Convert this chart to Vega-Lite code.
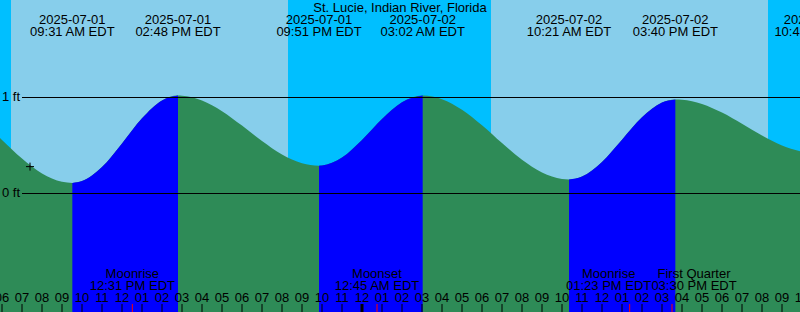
{
  "$schema": "https://vega.github.io/schema/vega-lite/v6.json",
  "width": 800,
  "height": 312,
  "autosize": "none",
  "padding": 0,
  "background": "#87CEEB",
  "config": {"view": {"stroke": null}, "font": "Liberation Sans"},
  "datasets": {
    "night": [
      {"start": "2025-07-01T05:54:00Z", "end": "2025-07-01T06:27:00Z"},
      {"start": "2025-07-01T20:18:00Z", "end": "2025-07-02T06:27:00Z"},
      {"start": "2025-07-02T20:18:00Z", "end": "2025-07-02T21:54:00Z"}
    ],
    "tide": [
      {"t": "2025-07-01T05:54:00Z", "ft": 0.577},
      {"t": "2025-07-01T06:00:00Z", "ft": 0.557},
      {"t": "2025-07-01T07:00:00Z", "ft": 0.364},
      {"t": "2025-07-01T08:00:00Z", "ft": 0.209},
      {"t": "2025-07-01T09:00:00Z", "ft": 0.122},
      {"t": "2025-07-01T09:31:00Z", "ft": 0.11},
      {"t": "2025-07-01T10:00:00Z", "ft": 0.129},
      {"t": "2025-07-01T11:00:00Z", "ft": 0.276},
      {"t": "2025-07-01T12:00:00Z", "ft": 0.522},
      {"t": "2025-07-01T13:00:00Z", "ft": 0.783},
      {"t": "2025-07-01T14:00:00Z", "ft": 0.97},
      {"t": "2025-07-01T14:48:00Z", "ft": 1.02},
      {"t": "2025-07-01T15:00:00Z", "ft": 1.019},
      {"t": "2025-07-01T16:00:00Z", "ft": 0.969},
      {"t": "2025-07-01T17:00:00Z", "ft": 0.858},
      {"t": "2025-07-01T18:00:00Z", "ft": 0.708},
      {"t": "2025-07-01T19:00:00Z", "ft": 0.547},
      {"t": "2025-07-01T20:00:00Z", "ft": 0.407},
      {"t": "2025-07-01T21:00:00Z", "ft": 0.316},
      {"t": "2025-07-01T21:51:00Z", "ft": 0.29},
      {"t": "2025-07-01T22:00:00Z", "ft": 0.292},
      {"t": "2025-07-01T23:00:00Z", "ft": 0.375},
      {"t": "2025-07-02T00:00:00Z", "ft": 0.558},
      {"t": "2025-07-02T01:00:00Z", "ft": 0.776},
      {"t": "2025-07-02T02:00:00Z", "ft": 0.951},
      {"t": "2025-07-02T03:02:00Z", "ft": 1.02},
      {"t": "2025-07-02T04:00:00Z", "ft": 0.983},
      {"t": "2025-07-02T05:00:00Z", "ft": 0.873},
      {"t": "2025-07-02T06:00:00Z", "ft": 0.711},
      {"t": "2025-07-02T07:00:00Z", "ft": 0.525},
      {"t": "2025-07-02T08:00:00Z", "ft": 0.351},
      {"t": "2025-07-02T09:00:00Z", "ft": 0.218},
      {"t": "2025-07-02T10:00:00Z", "ft": 0.151},
      {"t": "2025-07-02T10:21:00Z", "ft": 0.146},
      {"t": "2025-07-02T11:00:00Z", "ft": 0.176},
      {"t": "2025-07-02T12:00:00Z", "ft": 0.329},
      {"t": "2025-07-02T13:00:00Z", "ft": 0.561},
      {"t": "2025-07-02T14:00:00Z", "ft": 0.793},
      {"t": "2025-07-02T15:00:00Z", "ft": 0.948},
      {"t": "2025-07-02T15:40:00Z", "ft": 0.98},
      {"t": "2025-07-02T16:00:00Z", "ft": 0.977},
      {"t": "2025-07-02T17:00:00Z", "ft": 0.933},
      {"t": "2025-07-02T18:00:00Z", "ft": 0.843},
      {"t": "2025-07-02T19:00:00Z", "ft": 0.726},
      {"t": "2025-07-02T20:00:00Z", "ft": 0.604},
      {"t": "2025-07-02T21:00:00Z", "ft": 0.5},
      {"t": "2025-07-02T21:54:00Z", "ft": 0.44}
    ],
    "rising": [
      {"seg": "r1", "t": "2025-07-01T09:31:00Z", "ft": 0.11},
      {"seg": "r1", "t": "2025-07-01T10:00:00Z", "ft": 0.129},
      {"seg": "r1", "t": "2025-07-01T11:00:00Z", "ft": 0.276},
      {"seg": "r1", "t": "2025-07-01T12:00:00Z", "ft": 0.522},
      {"seg": "r1", "t": "2025-07-01T13:00:00Z", "ft": 0.783},
      {"seg": "r1", "t": "2025-07-01T14:00:00Z", "ft": 0.97},
      {"seg": "r1", "t": "2025-07-01T14:48:00Z", "ft": 1.02},
      {"seg": "r2", "t": "2025-07-01T21:51:00Z", "ft": 0.29},
      {"seg": "r2", "t": "2025-07-01T22:00:00Z", "ft": 0.292},
      {"seg": "r2", "t": "2025-07-01T23:00:00Z", "ft": 0.375},
      {"seg": "r2", "t": "2025-07-02T00:00:00Z", "ft": 0.558},
      {"seg": "r2", "t": "2025-07-02T01:00:00Z", "ft": 0.776},
      {"seg": "r2", "t": "2025-07-02T02:00:00Z", "ft": 0.951},
      {"seg": "r2", "t": "2025-07-02T03:02:00Z", "ft": 1.02},
      {"seg": "r3", "t": "2025-07-02T10:21:00Z", "ft": 0.146},
      {"seg": "r3", "t": "2025-07-02T11:00:00Z", "ft": 0.176},
      {"seg": "r3", "t": "2025-07-02T12:00:00Z", "ft": 0.329},
      {"seg": "r3", "t": "2025-07-02T13:00:00Z", "ft": 0.561},
      {"seg": "r3", "t": "2025-07-02T14:00:00Z", "ft": 0.793},
      {"seg": "r3", "t": "2025-07-02T15:00:00Z", "ft": 0.948},
      {"seg": "r3", "t": "2025-07-02T15:40:00Z", "ft": 0.98}
    ],
    "levels": [
      {"ft": 0, "label": "0 ft"},
      {"ft": 1, "label": "1 ft"}
    ],
    "events": [
      {"t": "2025-07-01T09:31:00Z", "label": "2025-07-01\n09:31 AM EDT"},
      {"t": "2025-07-01T14:48:00Z", "label": "2025-07-01\n02:48 PM EDT"},
      {"t": "2025-07-01T21:51:00Z", "label": "2025-07-01\n09:51 PM EDT"},
      {"t": "2025-07-02T03:02:00Z", "label": "2025-07-02\n03:02 AM EDT"},
      {"t": "2025-07-02T10:21:00Z", "label": "2025-07-02\n10:21 AM EDT"},
      {"t": "2025-07-02T15:40:00Z", "label": "2025-07-02\n03:40 PM EDT"},
      {"t": "2025-07-02T22:45:00Z", "label": "2025-07-02\n10:45 PM EDT"}
    ],
    "moon": [
      {"id": "a", "t": "2025-07-01T12:31:00Z", "label": "Moonrise\n12:31 PM EDT"},
      {"id": "b", "t": "2025-07-02T00:45:00Z", "label": "Moonset\n12:45 AM EDT"},
      {"id": "c", "t": "2025-07-02T13:23:00Z", "label": "Moonrise\n01:23 PM EDT"},
      {"id": "d", "t": "2025-07-02T15:30:00Z", "label": "First Quarter\n03:30 PM EDT"}
    ],
    "hours": [
      {"t": "2025-07-01T06:00:00Z", "label": "06"},
      {"t": "2025-07-01T07:00:00Z", "label": "07"},
      {"t": "2025-07-01T08:00:00Z", "label": "08"},
      {"t": "2025-07-01T09:00:00Z", "label": "09"},
      {"t": "2025-07-01T10:00:00Z", "label": "10"},
      {"t": "2025-07-01T11:00:00Z", "label": "11"},
      {"t": "2025-07-01T12:00:00Z", "label": "12"},
      {"t": "2025-07-01T13:00:00Z", "label": "01"},
      {"t": "2025-07-01T14:00:00Z", "label": "02"},
      {"t": "2025-07-01T15:00:00Z", "label": "03"},
      {"t": "2025-07-01T16:00:00Z", "label": "04"},
      {"t": "2025-07-01T17:00:00Z", "label": "05"},
      {"t": "2025-07-01T18:00:00Z", "label": "06"},
      {"t": "2025-07-01T19:00:00Z", "label": "07"},
      {"t": "2025-07-01T20:00:00Z", "label": "08"},
      {"t": "2025-07-01T21:00:00Z", "label": "09"},
      {"t": "2025-07-01T22:00:00Z", "label": "10"},
      {"t": "2025-07-01T23:00:00Z", "label": "11"},
      {"t": "2025-07-02T00:00:00Z", "label": "12"},
      {"t": "2025-07-02T01:00:00Z", "label": "01"},
      {"t": "2025-07-02T02:00:00Z", "label": "02"},
      {"t": "2025-07-02T03:00:00Z", "label": "03"},
      {"t": "2025-07-02T04:00:00Z", "label": "04"},
      {"t": "2025-07-02T05:00:00Z", "label": "05"},
      {"t": "2025-07-02T06:00:00Z", "label": "06"},
      {"t": "2025-07-02T07:00:00Z", "label": "07"},
      {"t": "2025-07-02T08:00:00Z", "label": "08"},
      {"t": "2025-07-02T09:00:00Z", "label": "09"},
      {"t": "2025-07-02T10:00:00Z", "label": "10"},
      {"t": "2025-07-02T11:00:00Z", "label": "11"},
      {"t": "2025-07-02T12:00:00Z", "label": "12"},
      {"t": "2025-07-02T13:00:00Z", "label": "01"},
      {"t": "2025-07-02T14:00:00Z", "label": "02"},
      {"t": "2025-07-02T15:00:00Z", "label": "03"},
      {"t": "2025-07-02T16:00:00Z", "label": "04"},
      {"t": "2025-07-02T17:00:00Z", "label": "05"},
      {"t": "2025-07-02T18:00:00Z", "label": "06"},
      {"t": "2025-07-02T19:00:00Z", "label": "07"},
      {"t": "2025-07-02T20:00:00Z", "label": "08"},
      {"t": "2025-07-02T21:00:00Z", "label": "09"},
      {"t": "2025-07-02T22:00:00Z", "label": "10"}
    ],
    "midnight": [{"t": "2025-07-02T00:00:00Z"}],
    "now": [{"t": "2025-07-01T07:24:00Z", "ft": 0.28}],
    "place": [{"name": "St. Lucie, Indian River, Florida"}]
  },
  "layer": [
    {
      "data": {"name": "night"},
      "mark": {"type": "rect", "color": "#00BFFF"},
      "encoding": {
        "x": {"field": "start", "type": "temporal", "axis": null,
              "scale": {"type": "utc", "domain": [
                {"year": 2025, "month": 7, "date": 1, "hours": 5, "minutes": 54, "utc": true},
                {"year": 2025, "month": 7, "date": 2, "hours": 21, "minutes": 54, "utc": true}]}},
        "x2": {"field": "end"}
      }
    },
    {
      "data": {"name": "tide"},
      "mark": {"type": "area", "color": "#2E8B57", "interpolate": "monotone"},
      "encoding": {
        "x": {"field": "t", "type": "temporal", "axis": null},
        "y": {"field": "ft", "type": "quantitative", "axis": null, "scale": {"domain": [-1.234375, 2.015625], "nice": false, "zero": false}},
        "y2": {"datum": -1.234375}
      }
    },
    {
      "data": {"name": "rising"},
      "mark": {"type": "area", "color": "#0000FF", "interpolate": "monotone"},
      "encoding": {
        "x": {"field": "t", "type": "temporal", "axis": null},
        "y": {"field": "ft", "type": "quantitative", "axis": null},
        "y2": {"datum": -1.234375},
        "detail": {"field": "seg"}
      }
    },
    {
      "data": {"name": "levels"},
      "mark": {"type": "rule", "color": "black", "strokeWidth": 1},
      "encoding": {
        "x": {"datum": {"year": 2025, "month": 7, "date": 1, "hours": 7, "minutes": 0, "utc": true}, "type": "temporal", "axis": null},
        "x2": {"datum": {"year": 2025, "month": 7, "date": 2, "hours": 21, "minutes": 54, "utc": true}},
        "y": {"field": "ft", "type": "quantitative", "axis": null}
      }
    },
    {
      "data": {"name": "levels"},
      "mark": {"type": "text", "align": "left", "baseline": "alphabetic", "dy": 3.6, "font": "Liberation Sans", "fontSize": 13, "color": "black"},
      "encoding": {
        "x": {"datum": {"year": 2025, "month": 7, "date": 1, "hours": 6, "minutes": 0, "utc": true}, "type": "temporal", "axis": null},
        "y": {"field": "ft", "type": "quantitative", "axis": null},
        "text": {"field": "label"}
      }
    },
    {
      "data": {"name": "place"},
      "mark": {"type": "text", "align": "center", "baseline": "alphabetic", "font": "Liberation Sans", "fontSize": 13, "color": "black"},
      "encoding": {
        "y": {"datum": 1.8906, "type": "quantitative", "axis": null},
        "text": {"field": "name"}
      }
    },
    {
      "data": {"name": "events"},
      "mark": {"type": "text", "align": "center", "baseline": "alphabetic", "lineBreak": "\n", "lineHeight": 12, "font": "Liberation Sans", "fontSize": 13, "color": "black"},
      "encoding": {
        "x": {"field": "t", "type": "temporal", "axis": null},
        "y": {"datum": 1.7656, "type": "quantitative", "axis": null},
        "text": {"field": "label"}
      }
    },
    {
      "data": {"name": "moon"},
      "transform": [{"filter": "datum.id == 'a' || datum.id == 'b'"}],
      "mark": {"type": "text", "align": "center", "baseline": "alphabetic", "lineBreak": "\n", "lineHeight": 12, "font": "Liberation Sans", "fontSize": 13, "color": "black"},
      "encoding": {
        "x": {"field": "t", "type": "temporal", "axis": null},
        "y": {"datum": -0.8802, "type": "quantitative", "axis": null},
        "text": {"field": "label"}
      }
    },
    {
      "data": {"name": "moon"},
      "transform": [{"filter": "datum.id == 'c'"}],
      "mark": {"type": "text", "align": "center", "baseline": "alphabetic", "dx": -21, "lineBreak": "\n", "lineHeight": 12, "font": "Liberation Sans", "fontSize": 13, "color": "black"},
      "encoding": {
        "x": {"field": "t", "type": "temporal", "axis": null},
        "y": {"datum": -0.8802, "type": "quantitative", "axis": null},
        "text": {"field": "label"}
      }
    },
    {
      "data": {"name": "moon"},
      "transform": [{"filter": "datum.id == 'd'"}],
      "mark": {"type": "text", "align": "center", "baseline": "alphabetic", "dx": 22, "lineBreak": "\n", "lineHeight": 12, "font": "Liberation Sans", "fontSize": 13, "color": "black"},
      "encoding": {
        "x": {"field": "t", "type": "temporal", "axis": null},
        "y": {"datum": -0.8802, "type": "quantitative", "axis": null},
        "text": {"field": "label"}
      }
    },
    {
      "data": {"name": "hours"},
      "mark": {"type": "rule", "color": "black", "strokeWidth": 1},
      "encoding": {
        "x": {"field": "t", "type": "temporal", "axis": null},
        "y": {"datum": -1.151, "type": "quantitative", "axis": null},
        "y2": {"datum": -1.234375}
      }
    },
    {
      "data": {"name": "hours"},
      "mark": {"type": "text", "align": "center", "baseline": "alphabetic", "font": "Liberation Sans", "fontSize": 13, "color": "black"},
      "encoding": {
        "x": {"field": "t", "type": "temporal", "axis": null},
        "y": {"datum": -1.1271, "type": "quantitative", "axis": null},
        "text": {"field": "label"}
      }
    },
    {
      "data": {"name": "moon"},
      "mark": {"type": "rule", "color": "#FF0000", "strokeWidth": 1},
      "encoding": {
        "x": {"field": "t", "type": "temporal", "axis": null},
        "y": {"datum": -1.151, "type": "quantitative", "axis": null},
        "y2": {"datum": -1.234375}
      }
    },
    {
      "data": {"name": "midnight"},
      "mark": {"type": "rule", "color": "black", "strokeWidth": 3},
      "encoding": {
        "x": {"field": "t", "type": "temporal", "axis": null},
        "y": {"datum": -1.151, "type": "quantitative", "axis": null},
        "y2": {"datum": -1.234375}
      }
    },
    {
      "data": {"name": "now"},
      "mark": {"type": "point", "shape": "M-1,0H1M0,-1V1", "size": 64, "filled": false, "stroke": "black", "strokeWidth": 1, "opacity": 1},
      "encoding": {
        "x": {"field": "t", "type": "temporal", "axis": null},
        "y": {"field": "ft", "type": "quantitative", "axis": null}
      }
    }
  ]
}
